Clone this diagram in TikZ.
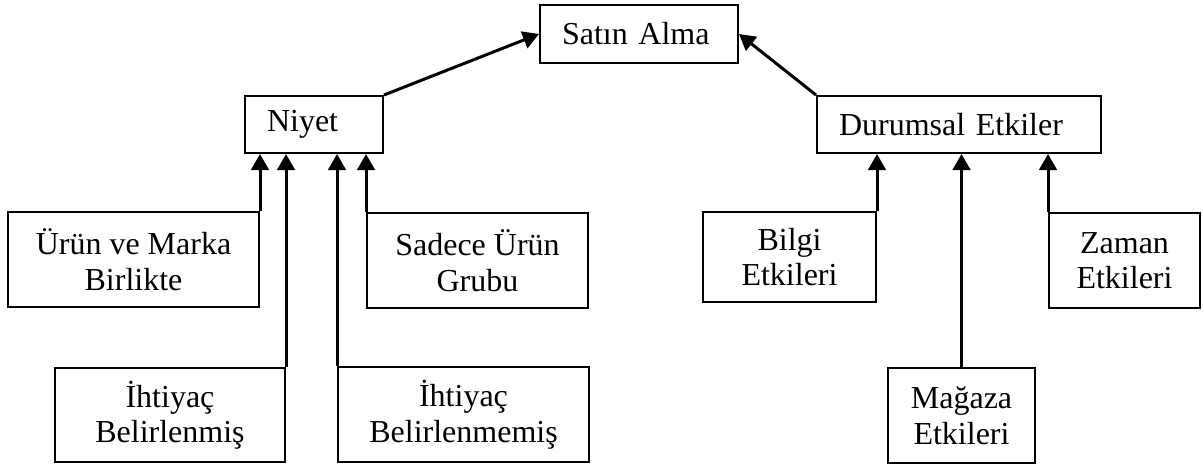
\documentclass[tikz,border=0pt]{standalone}
\usepackage{fontspec}
\setmainfont{Liberation Serif}
\usepackage{tikz}
\usetikzlibrary{arrows.meta}

\tikzset{
  kutu/.style={draw, line width=0.8pt, align=center, inner sep=0pt,
    font=\fontsize{12.8}{14.2}\selectfont},
  tek/.style={kutu, align=left, inner xsep=8.8pt},
  ok/.style={line width=1.2pt, -{Triangle[width=7pt,length=6.4pt]}}
}

\begin{document}
\begin{tikzpicture}[x=0.4pt, y=-0.4pt]
\useasboundingbox (0,0) rectangle (1203,466);
% Ust seviye
\node[tek, text width=61.6pt, minimum height=23.2pt] (satin) at (639,34) {Satın Alma};
\node[tek, text width=37.6pt, minimum height=22.8pt] (niyet) at (314,124.5) {Niyet};
\node[tek, text width=96pt, minimum height=22.8pt] (durum) at (959,124.5) {Durumsal Etkiler};
% Niyet turleri
\node[kutu, minimum width=100.4pt, minimum height=38pt] (urun) at (133.5,259.5) {Ürün ve Marka\\Birlikte};
\node[kutu, minimum width=88.4pt, minimum height=38pt] (sadece) at (477.5,260.5) {Sadece Ürün\\Grubu};
\node[kutu, minimum width=92pt, minimum height=37.6pt] (ihtb) at (170,415) {İhtiyaç\\Belirlenmiş};
\node[kutu, minimum width=100.4pt, minimum height=38pt] (ihtm) at (463.5,414.5) {İhtiyaç\\Belirlenmemiş};
% Durumsal etkiler
\node[kutu, minimum width=69.2pt, minimum height=36pt] (bilgi) at (789.5,257) {Bilgi\\Etkileri};
\node[kutu, minimum width=60.4pt, minimum height=38pt] (zaman) at (1124.5,260.5) {Zaman\\Etkileri};
\node[kutu, minimum width=58.8pt, minimum height=38pt] (magaza) at (961.5,415.5) {Mağaza\\Etkileri};
% Oklar
\draw[ok] (niyet.north east) -- (satin.west);
\draw[ok] (durum.north west) -- (satin.east);
\draw[ok] (urun.north east) -- (urun.north east |- niyet.south);
\draw[ok] (ihtb.north east) -- (ihtb.north east |- niyet.south);
\draw[ok] (ihtm.north west) -- (ihtm.north west |- niyet.south);
\draw[ok] (sadece.north west) -- (sadece.north west |- niyet.south);
\draw[ok] (bilgi.north east) -- (bilgi.north east |- durum.south);
\draw[ok] (magaza.north) -- (magaza.north |- durum.south);
\draw[ok] (zaman.north west) -- (zaman.north west |- durum.south);
\end{tikzpicture}
\end{document}
